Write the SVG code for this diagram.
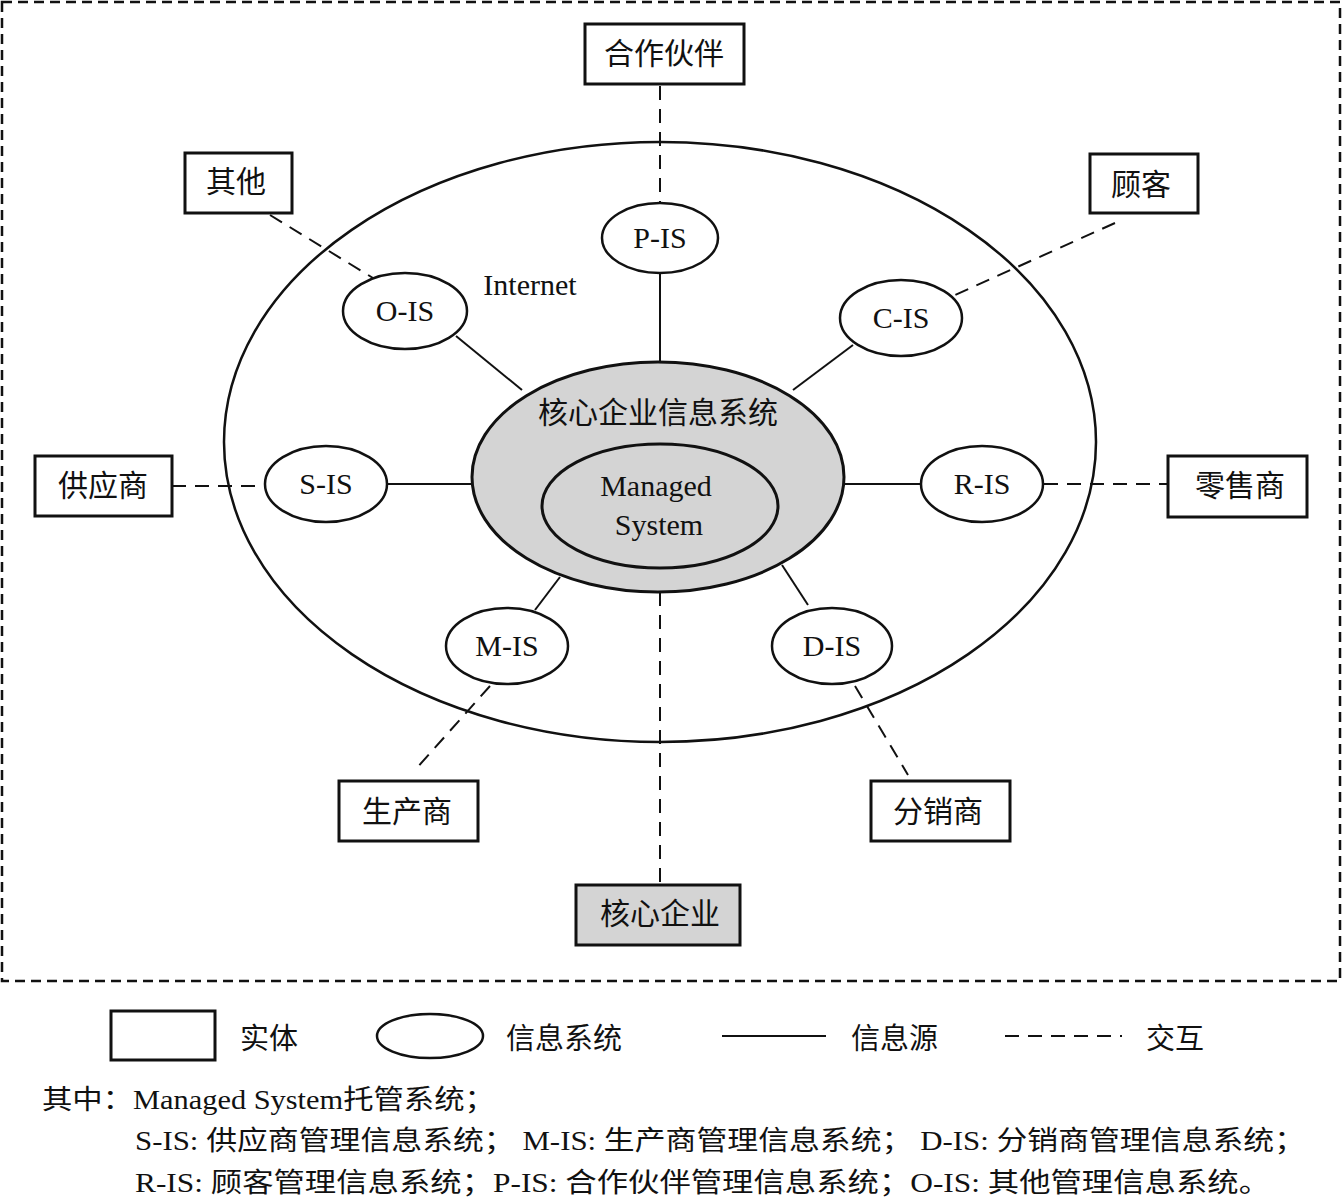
<svg xmlns="http://www.w3.org/2000/svg" width="1343" height="1197" viewBox="0 0 1343 1197">
<style>
text{font-family:"Liberation Serif","Noto Sans CJK SC",serif;fill:#111;}
.box{fill:#fff;stroke:#111;stroke-width:3;}
.gbox{fill:#d4d4d4;stroke:#111;stroke-width:3;}
.ell{fill:#fff;stroke:#111;stroke-width:2.5;}
.solid{stroke:#111;stroke-width:2;fill:none;}
.dash{stroke:#111;stroke-width:2;fill:none;stroke-dasharray:14 9;}
.lbl{font-size:30px;text-anchor:middle;}
.is{font-size:30px;text-anchor:middle;}
.note{font-size:27px;}
</style>
<rect width="1343" height="1197" fill="#fff"/>
<rect id="frame" x="2" y="2" width="1338" height="979" fill="none" stroke="#111" stroke-width="2.5" stroke-dasharray="10 6"/>
<g id="internet">
<ellipse cx="660" cy="442" rx="436" ry="300" fill="none" stroke="#111" stroke-width="2.5"/>
<text x="530" y="295" class="is">Internet</text>
</g>
<g id="connectors">
<line class="solid" x1="660" y1="273" x2="660" y2="362"/>
<line class="solid" x1="456" y1="336" x2="522" y2="390"/>
<line class="solid" x1="853" y1="345" x2="793" y2="390"/>
<line class="solid" x1="387" y1="484" x2="472" y2="484"/>
<line class="solid" x1="845" y1="484" x2="921" y2="484"/>
<line class="solid" x1="535" y1="610" x2="560" y2="577"/>
<line class="solid" x1="782" y1="565" x2="808" y2="605"/>
<line class="dash" x1="660" y1="86" x2="660" y2="203"/>
<line class="dash" x1="270" y1="215" x2="373" y2="278"/>
<line class="dash" x1="1115" y1="223" x2="955" y2="295"/>
<line class="dash" x1="172" y1="486" x2="264" y2="486"/>
<line class="dash" x1="1044" y1="484" x2="1168" y2="484"/>
<line class="dash" x1="490" y1="686" x2="415" y2="770"/>
<line class="dash" x1="855" y1="686" x2="908" y2="775"/>
<line class="dash" x1="660" y1="592" x2="660" y2="885"/>
</g>
<g id="core">
<ellipse cx="658" cy="477" rx="186" ry="115" fill="#d4d4d4" stroke="#111" stroke-width="3"/>
<text x="658" y="423" class="lbl" font-size="29">核心企业信息系统</text>
</g>
<g id="managed">
<ellipse cx="660" cy="506" rx="118" ry="62" fill="#d4d4d4" stroke="#111" stroke-width="3"/>
<text x="656" y="496" class="is" font-size="32">Managed</text>
<text x="659" y="535" class="is" font-size="32">System</text>
</g>
<g id="p-is"><ellipse class="ell" cx="660" cy="238" rx="58" ry="35"/><text x="660" y="248" class="is">P-IS</text></g>
<g id="o-is"><ellipse class="ell" cx="405" cy="311" rx="62" ry="38"/><text x="405" y="321" class="is">O-IS</text></g>
<g id="c-is"><ellipse class="ell" cx="901" cy="318" rx="61" ry="38"/><text x="901" y="328" class="is">C-IS</text></g>
<g id="s-is"><ellipse class="ell" cx="326" cy="484" rx="61" ry="38"/><text x="326" y="494" class="is">S-IS</text></g>
<g id="r-is"><ellipse class="ell" cx="982" cy="484" rx="61" ry="38"/><text x="982" y="494" class="is">R-IS</text></g>
<g id="m-is"><ellipse class="ell" cx="507" cy="646" rx="61" ry="38"/><text x="507" y="656" class="is">M-IS</text></g>
<g id="d-is"><ellipse class="ell" cx="832" cy="646" rx="60" ry="38"/><text x="832" y="656" class="is">D-IS</text></g>
<g id="partner"><rect class="box" x="585" y="24" width="159" height="60"/><text x="664" y="64" class="lbl">合作伙伴</text></g>
<g id="other"><rect class="box" x="185" y="153" width="107" height="60"/><text x="236" y="192" class="lbl">其他</text></g>
<g id="customer"><rect class="box" x="1090" y="154" width="108" height="59"/><text x="1141" y="195" class="lbl">顾客</text></g>
<g id="supplier"><rect class="box" x="35" y="456" width="137" height="60"/><text x="103" y="496" class="lbl">供应商</text></g>
<g id="retailer"><rect class="box" x="1168" y="456" width="139" height="61"/><text x="1240" y="496" class="lbl">零售商</text></g>
<g id="producer"><rect class="box" x="339" y="781" width="139" height="60"/><text x="407" y="822" class="lbl">生产商</text></g>
<g id="distributor"><rect class="box" x="871" y="781" width="139" height="60"/><text x="938" y="822" class="lbl">分销商</text></g>
<g id="core-enterprise"><rect class="gbox" x="576" y="885" width="164" height="60"/><text x="660" y="924" class="lbl">核心企业</text></g>
<g id="legend">
<rect class="box" x="111" y="1011" width="104" height="49"/>
<text x="240" y="1049" font-size="29">实体</text>
<ellipse class="ell" cx="430" cy="1036" rx="53" ry="22"/>
<text x="506" y="1049" font-size="29">信息系统</text>
<line class="solid" x1="722" y1="1036" x2="826" y2="1036"/>
<text x="851" y="1049" font-size="29">信息源</text>
<line class="dash" x1="1005" y1="1036" x2="1122" y2="1036" stroke-dasharray="12 8"/>
<text x="1146" y="1049" font-size="29">交互</text>
</g>
<g id="notes">
<text x="42" y="1109" class="note" textLength="453" lengthAdjust="spacingAndGlyphs">其中：Managed System托管系统；</text>
<text x="135" y="1150" class="note" textLength="1170" lengthAdjust="spacingAndGlyphs">S-IS: 供应商管理信息系统； M-IS: 生产商管理信息系统； D-IS: 分销商管理信息系统；</text>
<text x="135" y="1192" class="note" textLength="1135" lengthAdjust="spacingAndGlyphs">R-IS: 顾客管理信息系统；P-IS: 合作伙伴管理信息系统；O-IS: 其他管理信息系统。</text>
</g>
</svg>
